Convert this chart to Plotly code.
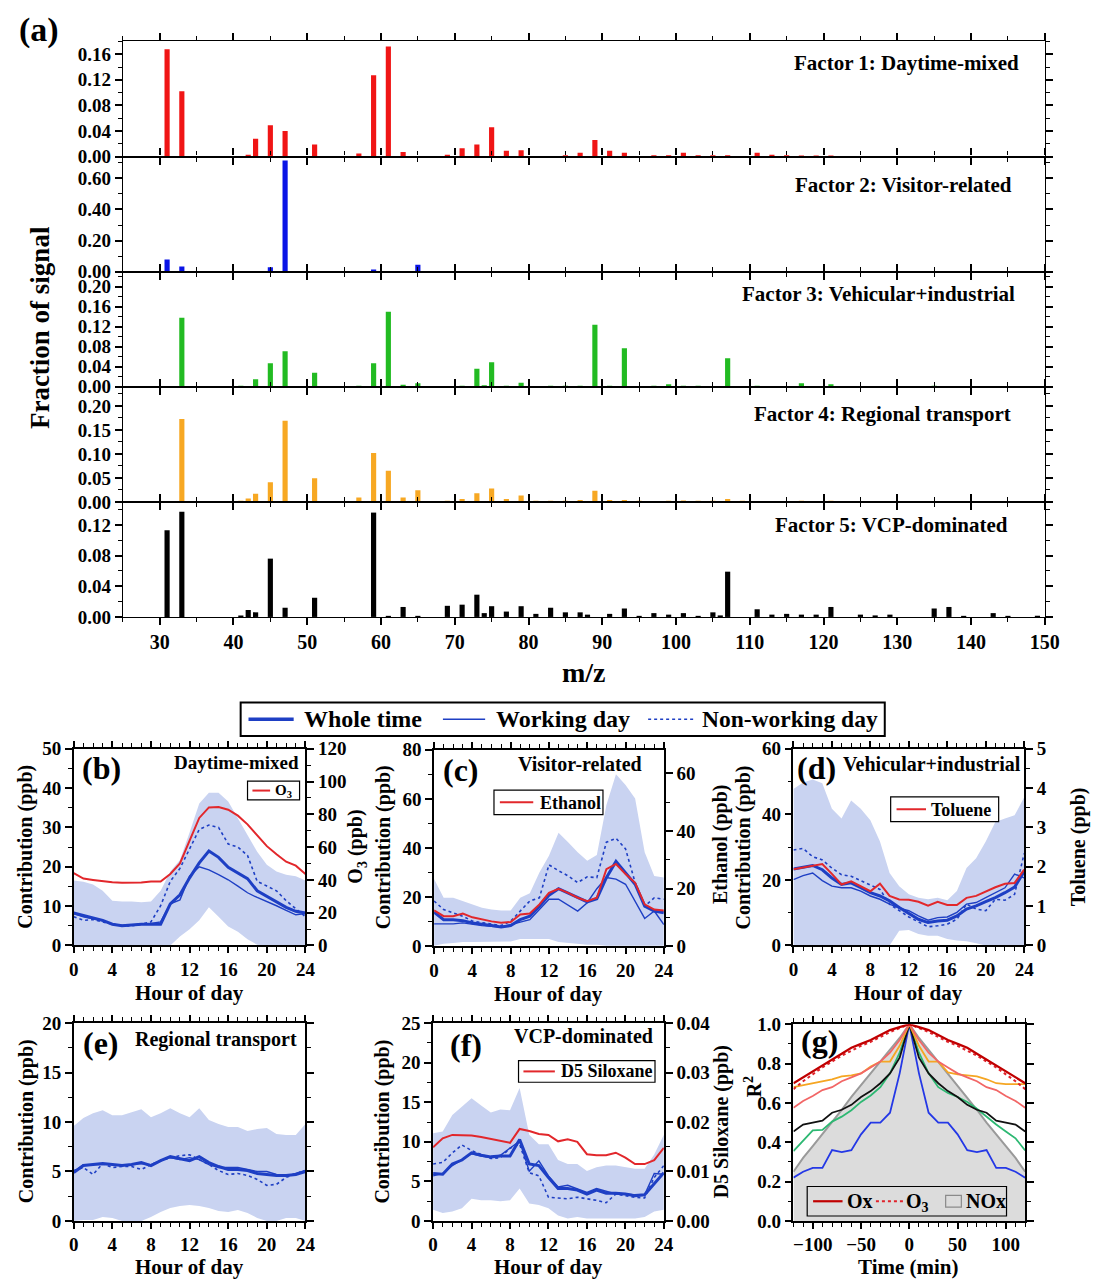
import plotly.graph_objects as go

W, H = 1104, 1288
FONT = "Liberation Serif"

# ---------------- DATA ----------------
# Panel (a): factor mass spectra (m/z, fraction of signal)
F1_MZ = [31,33,42,43,45,47,51,57,59,61,63,69,71,73,75,77,79,85,87,89,91,93,97,99,101,103,105,107,111,113,115,117,119,121]
F1_VAL = [0.168,0.102,0.003,0.028,0.049,0.040,0.019,0.005,0.127,0.172,0.007,0.003,0.013,0.019,0.046,0.009,0.010,0.002,0.006,0.026,
          0.009,0.006,0.002,0.002,0.006,0.002,0.002,0.002,0.006,0.003,0.002,0.001,0.001,0.001]
F2_MZ = [31,33,45,47,59,65]
F2_VAL = [0.078,0.033,0.028,0.715,0.014,0.044]
F3_MZ = [33,41,43,45,47,51,57,59,61,63,65,71,73,74,75,77,79,83,85,87,89,91,93,97,99,101,103,107,111,117,121,135]
F3_VAL = [0.138,0.001,0.015,0.047,0.071,0.028,0.001,0.047,0.150,0.004,0.007,0.002,0.036,0.003,0.049,0.001,0.008,0.001,0.001,0.001,
          0.124,0.002,0.077,0.001,0.005,0.001,0.001,0.057,0.001,0.007,0.005,0.001]
F4_MZ = [33,41,42,43,45,47,51,57,59,61,63,65,69,71,73,75,77,79,81,83,85,87,89,91,93,95,99,101,103,105,107,109,117,121]
F4_VAL = [0.173,0.002,0.007,0.017,0.041,0.169,0.049,0.009,0.102,0.065,0.009,0.024,0.002,0.006,0.018,0.028,0.006,0.013,0.002,0.002,
          0.002,0.004,0.023,0.004,0.004,0.001,0.002,0.003,0.001,0.002,0.006,0.001,0.002,0.001]
F5_MZ = [31,33,41,42,43,45,47,51,59,61,63,65,69,71,73,74,75,77,79,81,83,85,87,88,91,93,95,97,99,101,103,105,106,107,111,113,115,117,119,121,
         125,127,129,135,137,139,143,145,149]
F5_VAL = [0.113,0.137,0.002,0.009,0.006,0.076,0.012,0.025,0.136,0.001,0.013,0.001,0.0145,0.016,0.029,0.005,0.014,0.007,0.014,0.004,
          0.012,0.006,0.006,0.003,0.004,0.011,0.001,0.005,0.003,0.005,0.001,0.006,0.002,0.059,0.010,0.003,0.004,0.003,0.003,0.013,
          0.003,0.002,0.003,0.011,0.013,0.001,0.005,0.001,0.001]
FACTOR_NAMES = ["Factor 1: Daytime-mixed", "Factor 2: Visitor-related", "Factor 3: Vehicular+industrial",
                "Factor 4: Regional transport", "Factor 5: VCP-dominated"]

HOURS = list(range(25))
# (b) Daytime-mixed
B_WHOLE = [8.25,7.7,7.0,6.4,5.4,5.0,5.2,5.4,5.4,5.4,10.6,12.9,17.2,21.0,24.0,22.4,19.9,18.4,17.0,13.9,12.5,11.1,9.7,8.7,8.25]
B_WORK = [8.1,7.3,6.8,6.3,5.4,5.1,5.2,5.4,5.6,6.0,10.6,11.6,17.6,20.0,19.2,18.0,16.7,15.1,13.4,12.2,11.2,10.1,8.9,7.8,8.1]
B_NONWORK = [7.3,6.4,6.6,6.0,5.4,5.0,5.0,5.4,6.0,10.1,16.3,19.6,24.6,29.5,30.6,30.0,25.8,25.0,22.9,16.3,15.1,13.9,11.4,9.3,7.3]
B_UP = [16.5,16.2,15.5,13.9,11.4,11.2,11.2,11.0,11.2,13.9,18.8,21.7,28.7,36.1,38.8,38.8,36.6,32.4,27.9,23.8,20.5,18.8,18.0,17.6,16.5]
B_LO = [0,0,0,0,0,0,0,0,0,0,0,2.3,4.1,6.4,9.7,7.3,4.8,3.5,1.6,0.2,0,0,0,0,0]
B_O3 = [44.2,40.8,40.0,39.2,38.6,38.2,38.2,38.4,39.0,39.0,43.6,50.1,64.0,77.8,84.2,84.4,82.8,79.2,73.9,66.9,60.6,55.6,51.1,48.7,43.6]
# (c) Visitor-related
C_WHOLE = [14.0,10.9,10.9,10.5,9.6,8.9,8.5,7.9,8.5,10.9,12.3,16.4,20.8,23.5,21.6,19.8,18.1,19.4,28.0,34.6,30.1,25.3,16.4,14.4,13.7]
C_WORK = [9.2,9.2,9.2,9.6,8.9,8.5,8.2,7.9,8.9,10.0,10.9,15.0,19.2,19.2,16.7,14.4,17.8,23.5,28.0,27.4,25.3,18.1,11.4,14.4,8.9]
C_NONWORK = [18.5,15.0,13.7,12.3,10.3,9.6,8.9,8.5,10.3,14.4,18.5,19.8,33.2,30.8,28.7,26.0,28.3,28.0,42.4,44.0,39.7,26.0,16.4,19.8,19.2]
C_UP = [27.4,19.8,19.8,18.5,17.1,15.7,15.0,14.6,14.6,19.8,21.6,30.1,36.9,46.2,42.4,38.3,34.9,37.2,57.5,70.0,65.7,60.2,38.3,28.7,28.0]
C_LO = [0.3,1.1,1.4,1.8,1.8,1.8,1.8,1.8,2.0,3.0,3.0,3.0,3.0,1.8,1.4,1.0,0.7,0.7,0.3,0.3,0.3,0.3,0.3,0.3,0.3]
C_ETHANOL = [12.5,10.5,10.5,11.4,10.1,9.3,8.7,8.2,8.5,11.1,11.4,14.6,18.6,20.0,18.6,16.9,15.7,16.9,26.8,28.6,25.1,22.1,14.6,12.8,12.5]
# (d) Vehicular+industrial
D_WHOLE = [23.3,23.8,24.4,23.1,20.6,18.6,19.1,17.6,16.1,15.1,13.6,11.6,9.7,8.0,7.0,7.5,7.7,9.0,11.1,12.1,13.4,14.6,16.1,17.8,22.6]
D_WORK = [20.1,21.3,22.1,19.8,18.1,17.6,17.6,16.6,15.1,14.1,12.6,11.4,10.6,9.0,7.7,8.5,8.7,10.1,12.6,13.1,14.6,16.1,17.6,21.8,20.6]
D_NONWORK = [29.1,29.6,27.1,26.1,23.6,21.6,21.1,19.8,18.6,17.1,12.6,10.6,8.7,7.2,5.7,6.0,6.5,8.0,12.6,11.1,10.6,14.1,13.8,15.6,28.1]
D_UP = [47.7,49.7,50.6,49.5,41.7,38.7,44.2,41.7,38.2,31.7,22.1,18.1,15.6,14.6,14.1,14.6,13.8,16.6,23.6,26.6,31.7,37.7,38.7,39.7,45.2]
D_LO = [0,0,0,0,0,0,0,0,0,0,0,4.5,4.7,3.5,3.0,3.0,2.0,1.5,1.3,0.7,0,0,0,0,0]
D_TOLUENE = [1.94,1.98,2.03,2.07,1.82,1.55,1.63,1.51,1.38,1.57,1.26,1.17,1.16,1.11,1.01,1.11,1.03,1.03,1.21,1.26,1.38,1.48,1.57,1.59,1.93]
# (e) Regional transport
E_WHOLE = [4.9,5.6,5.7,5.8,5.7,5.6,5.7,5.9,5.6,6.1,6.5,6.3,6.1,6.5,5.9,5.5,5.2,5.2,5.1,4.8,4.7,4.6,4.6,4.7,5.0]
E_WORK = [5.0,5.7,5.7,5.7,5.7,5.6,5.7,5.8,5.7,6.1,6.4,6.2,6.4,6.2,5.7,5.4,5.4,5.4,5.2,5.0,5.0,4.7,4.5,4.8,5.1]
E_NONWORK = [5.1,5.4,4.7,5.8,5.4,5.5,5.5,5.2,5.7,6.1,6.4,6.6,6.7,6.2,5.7,5.1,4.7,4.8,4.6,4.2,3.6,3.7,4.4,4.8,5.1]
E_UP = [9.6,10.4,10.9,11.2,10.7,10.7,11.0,11.3,10.5,10.9,11.4,10.9,10.5,11.4,10.2,9.8,9.5,9.5,9.1,9.3,9.4,8.8,8.7,8.7,9.8]
E_LO = [0,0.1,0.1,0.4,0.3,0,0,0,0.4,0.9,1.3,1.5,1.6,1.5,1.3,1.0,0.9,1.1,0.8,0.3,0,0,0.3,0.3,0]
# (f) VCP-dominated
F_WHOLE = [6.0,5.9,7.2,7.7,8.6,8.3,8.1,8.2,8.2,10.3,7.2,7.0,5.5,4.1,4.1,3.9,3.4,3.9,3.5,3.5,3.4,3.2,3.3,4.7,6.1]
F_WORK = [5.7,6.0,7.0,7.8,8.5,8.2,8.0,8.3,9.2,10.1,6.3,7.6,5.7,4.3,4.5,4.1,3.6,4.1,3.7,3.4,3.4,3.3,3.3,6.0,5.9]
F_NONWORK = [7.2,7.4,8.6,9.6,8.9,8.4,7.9,8.0,9.2,9.7,6.1,5.7,3.0,2.9,2.8,3.0,2.8,2.6,2.3,3.4,3.2,3.0,2.9,5.5,7.0]
F_UP = [11.1,11.3,13.4,14.4,15.5,14.6,13.7,14.1,14.0,16.8,10.9,9.7,9.7,7.7,7.2,7.2,6.3,6.8,7.0,7.0,6.8,6.6,6.6,8.4,10.9]
F_LO = [1.4,1.0,1.2,1.6,2.8,2.6,2.6,2.5,2.6,4.1,2.2,2.0,1.6,0.7,0.3,0.5,0.3,0.3,0.3,0.3,0.3,0.3,0.5,1.2,1.4]
F_D5 = [0.0149,0.0167,0.0174,0.0174,0.0173,0.0170,0.0166,0.0163,0.0158,0.0186,0.0182,0.0176,0.0174,0.0161,0.0165,0.0160,
        0.0135,0.0133,0.0133,0.0138,0.0128,0.0115,0.0115,0.0123,0.0148]
# (g) lag correlation (R^2 vs time lag, min)
LAG = [-120,-110,-100,-90,-80,-70,-60,-50,-40,-30,-20,-10,0,10,20,30,40,50,60,70,80,90,100,110,120]
G_OX = [0.70,0.73,0.76,0.79,0.82,0.85,0.88,0.90,0.92,0.945,0.97,0.985,1.0,0.985,0.97,0.945,0.92,0.90,0.88,0.85,0.82,0.79,0.76,0.73,0.70]
G_O3 = [0.67,0.71,0.745,0.78,0.81,0.84,0.865,0.89,0.91,0.935,0.96,0.98,1.0,0.98,0.96,0.935,0.91,0.89,0.865,0.84,0.81,0.78,0.745,0.71,0.67]
G_NOX = [0.25,0.32,0.38,0.44,0.50,0.565,0.63,0.69,0.75,0.81,0.87,0.93,1.0,0.93,0.87,0.81,0.75,0.69,0.63,0.565,0.50,0.44,0.38,0.32,0.25]
G_F1 = [0.575,0.61,0.635,0.665,0.68,0.71,0.73,0.75,0.78,0.81,0.855,0.92,1.0,0.92,0.855,0.81,0.78,0.75,0.73,0.71,0.68,0.665,0.635,0.61,0.575]
G_F4 = [0.68,0.69,0.70,0.71,0.72,0.735,0.74,0.75,0.785,0.81,0.81,0.89,1.0,0.89,0.81,0.81,0.755,0.745,0.74,0.735,0.72,0.70,0.695,0.695,0.695]
G_F3 = [0.355,0.405,0.46,0.463,0.505,0.53,0.563,0.605,0.638,0.68,0.75,0.855,1.0,0.855,0.75,0.68,0.65,0.63,0.605,0.57,0.53,0.49,0.455,0.42,0.358]
G_F5 = [0.455,0.49,0.50,0.51,0.55,0.565,0.59,0.63,0.66,0.70,0.75,0.83,1.0,0.83,0.75,0.70,0.66,0.63,0.59,0.565,0.55,0.51,0.50,0.49,0.455]
G_F2 = [0.22,0.25,0.27,0.27,0.36,0.35,0.36,0.44,0.50,0.50,0.55,0.75,1.0,0.75,0.55,0.50,0.50,0.44,0.36,0.35,0.36,0.27,0.27,0.25,0.22]

# ---------------- STYLE ----------------
RED_A, BLUE_A, GREEN_A, ORANGE_A, BLACK_A = "#f01515", "#0a14e6", "#22bb22", "#f7a823", "#000000"
LBLUE = "#1e3fc4"
BAND = "#c9d3f1"
REDL = "#e2272b"


def px(x):
    return x / W


def py(y):
    return 1 - y / H


def tf(size):
    return dict(family=FONT, size=size, color="black", weight="bold")


def axis(domain, rng, dtick, minor_dtick, anchor, tickfmt=None, mirror="ticks", showticklabels=True,
         size=17, tick0=0, lw=1.5, **kw):
    d = dict(domain=domain, range=rng, dtick=dtick, tick0=tick0, anchor=anchor,
             showline=True, linecolor="black", linewidth=lw, ticks="outside", ticklen=7,
             tickwidth=1.5, tickcolor="black", showgrid=False, zeroline=False, mirror=mirror,
             showticklabels=showticklabels, tickfont=tf(size),
             minor=dict(dtick=minor_dtick, tick0=tick0, ticks="outside", ticklen=4, tickwidth=1.2,
                        tickcolor="black", showgrid=False))
    if tickfmt:
        d["tickformat"] = tickfmt
    d.update(kw)
    return d


fig = go.Figure()
layout = dict(width=W, height=H, margin=dict(l=0, r=0, t=0, b=0), paper_bgcolor="white",
              plot_bgcolor="white", showlegend=False, font=dict(family=FONT, color="black"))
annotations = []
shapes = []


def ann(x, y, text, size, xanchor="center", yanchor="middle", angle=0, color="black"):
    annotations.append(dict(x=px(x), y=py(y), xref="paper", yref="paper", text=text, showarrow=False,
                            xanchor=xanchor, yanchor=yanchor, textangle=angle,
                            font=dict(family=FONT, size=size, color=color, weight="bold")))


# ---------------- PANEL (a) ----------------
tops = [32, 149, 266, 383, 500]
bots = [149, 266, 383, 500, 617]
yr = [[0, 0.18], [0, 0.74], [0, 0.23], [0, 0.24], [0, 0.15]]
ydt = [0.04, 0.2, 0.04, 0.05, 0.04]
ymn = [0.02, 0.1, 0.02, 0.025, 0.02]
bars = [(F1_MZ, F1_VAL, RED_A), (F2_MZ, F2_VAL, BLUE_A), (F3_MZ, F3_VAL, GREEN_A),
        (F4_MZ, F4_VAL, ORANGE_A), (F5_MZ, F5_VAL, BLACK_A)]
title_pos = [(1035, 54), (1028, 178), (1031, 289), (1027, 411), (1024, 524)]
for i in range(5):
    n = "" if i == 0 else str(i + 1)
    layout["xaxis" + n] = axis([px(120), px(1059)], [25, 150], 10, 5, "y" + n,
                               showticklabels=(i == 4), size=20, lw=1.3)
    layout["yaxis" + n] = axis([py(bots[i]), py(tops[i])], yr[i], ydt[i], ymn[i], "x" + n, tickfmt=".2f",
                               size=19, lw=1.3)
    mz, val, col = bars[i]
    fig.add_trace(go.Bar(x=mz, y=val, width=0.7, marker=dict(color=col, line=dict(width=0)),
                         xaxis="x" + n, yaxis="y" + n))
    ann(title_pos[i][0], title_pos[i][1], FACTOR_NAMES[i], 21, xanchor="right")

ann(35, 20, "(a)", 34)
ann(35, 323, "Fraction of signal", 27, angle=-90)
ann(590, 673, "m/z", 28)

# ---------------- PANELS (b)-(f) ----------------
panels = [
    dict(x="x6", yl="y6", yr="y7", xd=(70, 306), yd=(751, 951), rng=[0, 50], dt=10, mn=5,
         right=([0, 120], 20, 10, None), data=(B_WHOLE, B_WORK, B_NONWORK, B_UP, B_LO, B_O3)),
    dict(x="x7", yl="y8", yr="y9", xd=(437, 671), yd=(752, 952), rng=[0, 80], dt=20, mn=10,
         right=([0, 68.2], 20, 10, None), data=(C_WHOLE, C_WORK, C_NONWORK, C_UP, C_LO, C_ETHANOL)),
    dict(x="x8", yl="y10", yr="y11", xd=(803, 1038), yd=(751, 951), rng=[0, 60], dt=20, mn=10,
         right=([0, 5], 1, 0.5, None), data=(D_WHOLE, D_WORK, D_NONWORK, D_UP, D_LO, D_TOLUENE)),
    dict(x="x9", yl="y12", yr=None, xd=(70, 306), yd=(1030, 1231), rng=[0, 20], dt=5, mn=2.5,
         right=None, data=(E_WHOLE, E_WORK, E_NONWORK, E_UP, E_LO, None)),
    dict(x="x10", yl="y13", yr="y14", xd=(436, 671), yd=(1030, 1231), rng=[0, 25], dt=5, mn=2.5,
         right=([0, 0.04], 0.01, 0.005, ".2f"), data=(F_WHOLE, F_WORK, F_NONWORK, F_UP, F_LO, F_D5)),
]
TS = 19
for p in panels:
    xn = p["x"].replace("x", "xaxis")
    yln = p["yl"].replace("y", "yaxis")
    xdom = [px(p["xd"][0]), px(p["xd"][1])]
    ydom = [py(p["yd"][1]), py(p["yd"][0])]
    layout[xn] = axis(xdom, [0, 24], 4, 1, p["yl"], size=TS, ticklen=6)
    layout[yln] = axis(ydom, p["rng"], p["dt"], p["mn"], p["x"], size=TS,
                       mirror=("ticks" if p["yr"] is None else False))
    if p["yr"]:
        rr, rdt, rmn, rfmt = p["right"]
        layout[p["yr"].replace("y", "yaxis")] = axis(ydom, rr, rdt, rmn, p["x"], tickfmt=rfmt, size=TS,
                                                     mirror=False, overlaying=p["yl"], side="right")
    whole, work, nonwork, up, lo, tracer = p["data"]
    fig.add_trace(go.Scatter(x=HOURS, y=lo, mode="lines", line=dict(width=0, color=BAND),
                             xaxis=p["x"], yaxis=p["yl"], hoverinfo="skip"))
    fig.add_trace(go.Scatter(x=HOURS, y=up, mode="lines", line=dict(width=0, color=BAND), fill="tonexty",
                             fillcolor=BAND, xaxis=p["x"], yaxis=p["yl"], hoverinfo="skip"))
    if tracer is not None:
        fig.add_trace(go.Scatter(x=HOURS, y=tracer, mode="lines", line=dict(width=2, color=REDL),
                                 xaxis=p["x"], yaxis=p["yr"]))
    fig.add_trace(go.Scatter(x=HOURS, y=nonwork, mode="lines", line=dict(width=1.6, color=LBLUE, dash="dot"),
                             xaxis=p["x"], yaxis=p["yl"]))
    fig.add_trace(go.Scatter(x=HOURS, y=work, mode="lines", line=dict(width=1.4, color=LBLUE),
                             xaxis=p["x"], yaxis=p["yl"]))
    fig.add_trace(go.Scatter(x=HOURS, y=whole, mode="lines", line=dict(width=3, color=LBLUE),
                             xaxis=p["x"], yaxis=p["yl"]))

# ---------------- PANEL (g) ----------------
layout["xaxis11"] = axis([px(803), px(1039)], [-120, 120], 50, 10, "y15", size=TS, ticklen=6)
layout["yaxis15"] = axis([py(1231), py(1031)], [0, 1.0], 0.2, 0.1, "x11", tickfmt=".1f", size=TS)
fig.add_trace(go.Scatter(x=LAG, y=G_NOX, mode="lines", fill="tozeroy", fillcolor="#dcdcdc",
                         line=dict(color="#9a9a9a", width=2), xaxis="x11", yaxis="y15"))
for ys, col, w, dash in [(G_F2, "#2438e6", 1.8, "solid"), (G_F3, "#2db872", 1.8, "solid"),
                         (G_F5, "#111111", 1.8, "solid"), (G_F4, "#f5a623", 1.8, "solid"),
                         (G_F1, "#f26666", 1.8, "solid"), (G_O3, "#e0222a", 2, "dot"),
                         (G_OX, "#c00000", 2.2, "solid")]:
    fig.add_trace(go.Scatter(x=LAG, y=ys, mode="lines", line=dict(color=col, width=w, dash=dash),
                             xaxis="x11", yaxis="y15"))

# ---------------- TEXT: panels b-g ----------------
ann(98, 771, "(b)", 32); ann(301, 765, "Daytime-mixed", 19, xanchor="right")
ann(464, 773, "(c)", 32); ann(651, 767, "Visitor-related", 20, xanchor="right")
ann(826, 771, "(d)", 32); ann(1037, 767, "Vehicular+industrial", 20, xanchor="right")
ann(98, 1050, "(e)", 32); ann(299, 1047, "Regional transport", 20, xanchor="right")
ann(469, 1052, "(f)", 32); ann(662, 1043, "VCP-dominated", 20, xanchor="right")
ann(830, 1048, "(g)", 32)

for xc, yc in [(20, 851), (385, 851), (752, 851), (22, 1130), (385, 1130)]:
    ann(xc, yc, "Contribution (ppb)", 20, angle=-90)
ann(358, 851, "O<sub>3</sub> (ppb)", 20, angle=-90)
ann(728, 848, "Ethanol (ppb)", 20, angle=-90)
ann(1093, 851, "Toluene (ppb)", 20, angle=-90)
ann(730, 1130, "D5 Siloxane (ppb)", 20, angle=-90)
ann(762, 1095, "R<sup>2</sup>", 20, angle=-90)
for xc, yc in [(188, 999), (554, 1000), (920, 999), (188, 1278), (554, 1278)]:
    ann(xc, yc, "Hour of day", 21)
ann(920, 1278, "Time (min)", 21)


# ---------------- LEGEND BOXES ----------------
def rect(x0, y0, x1, y1, lw=1.2, fill=None, lc="black"):
    shapes.append(dict(type="rect", xref="paper", yref="paper", x0=px(x0), x1=px(x1), y0=py(y1), y1=py(y0),
                       line=dict(color=lc, width=lw), fillcolor=fill if fill else "rgba(0,0,0,0)"))


def seg(x0, x1, y, color, width, dash="solid"):
    shapes.append(dict(type="line", xref="paper", yref="paper", x0=px(x0), x1=px(x1), y0=py(y), y1=py(y),
                       line=dict(color=color, width=width, dash=dash)))


# main legend
rect(240, 704, 896, 738, lw=2)
seg(248, 294, 721, LBLUE, 3.5); ann(302, 721, "Whole time", 24, xanchor="left")
seg(446, 489, 721, LBLUE, 1.5); ann(498, 721, "Working day", 24, xanchor="left")
seg(655, 701, 721, LBLUE, 1.6, "dot"); ann(708, 721, "Non-working day", 23.5, xanchor="left")
# (b) O3
rect(247, 784, 300, 803)
seg(252, 270, 793.5, REDL, 2); ann(273, 794, "O<sub>3</sub>", 15, xanchor="left")
# (c) Ethanol
rect(498, 793, 609, 818)
seg(504, 538, 805.5, REDL, 2); ann(543, 806, "Ethanol", 18, xanchor="left")
# (d) Toluene
rect(902, 800, 1012, 825)
seg(908, 938, 812.5, REDL, 2); ann(941, 813, "Toluene", 18, xanchor="left")
# (f) D5 Siloxane
rect(523, 1068, 662, 1090)
seg(528, 560, 1079, REDL, 2); ann(564, 1079, "D5 Siloxane", 18, xanchor="left")
# (g)
rect(817, 1196, 1020, 1226)
seg(823, 853, 1211, "#c00000", 2.2); ann(855, 1211, "Ox", 20, xanchor="left")
seg(887, 915, 1211, "#e0222a", 2, "dot"); ann(916, 1212, "O<sub>3</sub>", 20, xanchor="left")
rect(958, 1205, 974, 1217, lw=1.2, fill="#dcdcdc", lc="#8a8a8a"); ann(977, 1211, "NOx", 20, xanchor="left")

layout["annotations"] = annotations
layout["shapes"] = shapes
fig.update_layout(**layout)
fig.write_html("out.html", config={"displayModeBar": False},
               post_script="document.body.style.margin='0px';document.body.style.overflow='hidden';")
